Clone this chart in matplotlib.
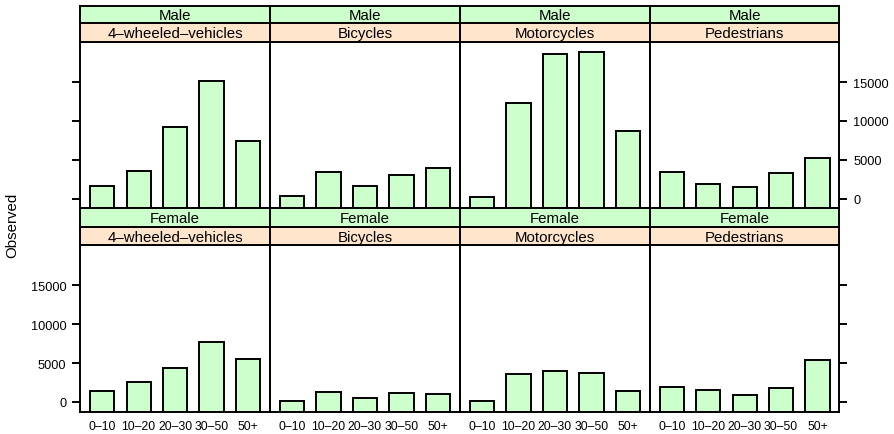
import matplotlib
matplotlib.use("Agg")
import matplotlib.pyplot as plt

plt.rcParams["font.family"] = ["Liberation Sans", "DejaVu Sans"]

ages = ["0–10", "10–20", "20–30", "30–50", "50+"]
modes = ["4–wheeled–vehicles", "Bicycles", "Motorcycles", "Pedestrians"]
genders = ["Male", "Female"]

male_4w = [1606, 3572, 9149, 15137, 7427]
male_bic = [360, 3405, 1568, 3058, 3880]
male_moto = [160, 12310, 18568, 18915, 8635]
male_ped = [3367, 1863, 1516, 3238, 5204]

female_4w = [1375, 2570, 4330, 7671, 5525]
female_bic = [90, 1246, 565, 1118, 990]
female_moto = [100, 3598, 3984, 3688, 1375]
female_ped = [1928, 1503, 861, 1799, 5448]

observed = {
    "Male": [male_4w, male_bic, male_moto, male_ped],
    "Female": [female_4w, female_bic, female_moto, female_ped],
}

W, H = 895, 435
fig = plt.figure(figsize=(W / 100, H / 100), dpi=100)

GREEN = "#ccffcc"
ORANGE = "#ffe5cc"
LW = 1.4
ylim = (-1250, 20190)
col_edges = [80.3, 270, 460, 650, 839.3]
# (outer strip top, inner strip top, panel top, panel bottom) in pixels from top
rows = [(6.7, 24.2, 42.7, 209.3), (209.3, 227.8, 245.7, 412.7)]


def px_axes(x0, x1, y0, y1):
    return fig.add_axes([x0 / W, 1 - y1 / H, (x1 - x0) / W, (y1 - y0) / H])


def strip(x0, x1, y0, y1, text, color):
    s = px_axes(x0, x1, y0, y1)
    s.set_facecolor(color)
    s.set_xticks([])
    s.set_yticks([])
    for sp in s.spines.values():
        sp.set_linewidth(LW)
    s.text(0.5, 0.45, text, ha="center", va="center", fontsize=10.8,
           transform=s.transAxes)


for r, gender in enumerate(genders):
    s_top, s_mid, p_top, p_bot = rows[r]
    for c, mode in enumerate(modes):
        x0, x1 = col_edges[c], col_edges[c + 1]
        ax = px_axes(x0, x1, p_top, p_bot)
        vals = observed[gender][c]
        xs = range(1, len(ages) + 1)
        # bars start at the panel's lower limit, lattice style
        ax.bar(xs, [v - ylim[0] for v in vals], bottom=ylim[0], width=0.667,
               color=GREEN, edgecolor="black", linewidth=LW)
        ax.set_xlim(0.4, 5.6)
        ax.set_ylim(*ylim)
        for sp in ax.spines.values():
            sp.set_linewidth(LW)
        ax.set_yticks([0, 5000, 10000, 15000])
        ax.tick_params(axis="y", direction="out", length=6, width=LW,
                       labelsize=9.2, pad=4,
                       left=(c == 0), right=(c == 3),
                       labelleft=(c == 0 and r == 1),
                       labelright=(c == 3 and r == 0))
        ax.set_xticks(list(xs))
        if r == 1:
            ax.set_xticklabels(ages, fontsize=8.8)
            ax.tick_params(axis="x", length=0, pad=6)
        else:
            ax.tick_params(axis="x", length=0, labelbottom=False)

        strip(x0, x1, s_top, s_mid, gender, GREEN)
        strip(x0, x1, s_mid, p_top, mode, ORANGE)

fig.text(12 / W, 1 - 225 / H, "Observed", rotation=90, ha="center",
         va="center", fontsize=10.8)

fig.savefig("out.png", dpi=100)
